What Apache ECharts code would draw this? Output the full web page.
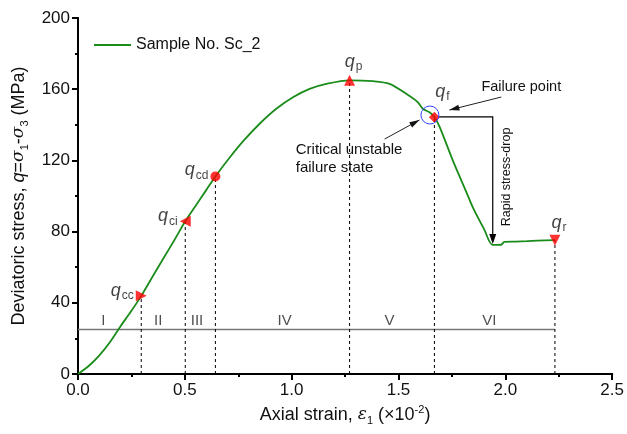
<!DOCTYPE html>
<html><head><meta charset="utf-8">
<script src="https://cdn.jsdelivr.net/npm/echarts@6/dist/echarts.min.js"></script>
<style>html,body{margin:0;padding:0;background:#fff}#c{width:627px;height:434px}</style>
</head><body><div id="c"></div><script>
// ---- data ----
const strain = [0,0.05,0.1,0.15,0.2,0.25,0.296,0.35,0.4,0.45,0.502,0.55,0.6,0.643,0.71,0.773,0.85,0.928,1.006,1.084,1.162,1.271,1.38,1.458,1.536,1.59,1.614,1.645,1.668,1.692,1.754,1.816,1.85,1.9,1.941,1.98,1.995,2.05,2.1,2.15,2.232];
const stress = [0,4.5,10.5,18,27,35.5,43.9,54.9,65,75,85.8,94.4,103.3,111,121.6,130.8,140.6,149,155.5,160.2,163,165,164.5,163,157.4,152.7,149,147,144.3,139,120,102.6,93,81.5,72.5,72.6,74.2,74.4,74.6,74.9,75.2];
const keyNames = ['cc','ci','cd','p','f','r'];
const keyStrain = [0.296,0.502,0.643,1.271,1.668,2.232];
const keyStress = [43.9,85.8,111,165,144.3,75.2];
const stageNames = ['I','II','III','IV','V','VI'];
const stageX = [0.118,0.375,0.557,0.967,1.458,1.925];
const stageLabelY = [30,30,30,30,30,30];
const stageLineY = 25;

const FONT = '"Liberation Sans", Arial, sans-serif';
const chart = echarts.init(document.getElementById('c'), null, {renderer:'canvas'});

const keySymbols = ['triangle','triangle','circle','triangle','diamond','triangle'];
const keyRot = [-90,90,0,0,0,180];
const keySize = [11,11,10,11,11,11];
const keyLabelPos = [
  {position:'left', distance:2, offset:[0,-5]},
  {position:'left', distance:2, offset:[0,-5]},
  {position:'left', distance:2, offset:[0,-6]},
  {position:'top', distance:3, offset:[4,1]},
  {position:'top', distance:4, offset:[8,-5]},
  {position:'top', distance:3, offset:[4,2]}
];
const qRich = {
  q:{fontFamily:FONT, fontStyle:'italic', fontSize:18, color:'#111', lineHeight:22, verticalAlign:'middle'},
  s:{fontFamily:FONT, fontSize:12, color:'#111', lineHeight:22, verticalAlign:'bottom', padding:[0,0,0,1]}
};

const dashedSeries = keyStrain.map((x,i)=>({
  type:'line', data:[[x,0],[x,keyStress[i]]], symbol:'none', silent:true, z:2,
  lineStyle:{color:'#000', width:1, type:[3,3]}
}));

const option = {
  animation:false,
  textStyle:{fontFamily:FONT},
  grid:{left:78, right:14, top:18, bottom:60},
  legend:{data:['Sample No. Sc_2'], left:89, top:32, icon:'rect', itemWidth:37, itemHeight:2, itemGap:5,
    textStyle:{fontFamily:FONT, fontSize:16, color:'#111', padding:[0,0,0,0]}},
  xAxis:[{
    type:'value', min:0, max:2.5, interval:0.5, position:'bottom',
    name:'{t|Axial strain, }{i|ε}{s|1}{t| (×10}{u|-2}{t|)}', nameLocation:'middle', nameGap:30,
    nameTextStyle:{rich:{
      t:{fontFamily:FONT, fontSize:18, color:'#111', lineHeight:22, verticalAlign:'middle'},
      i:{fontFamily:'"DejaVu Serif", serif', fontStyle:'italic', fontSize:17, color:'#111', lineHeight:22, verticalAlign:'middle'},
      s:{fontFamily:FONT, fontSize:11, color:'#111', lineHeight:22, verticalAlign:'bottom'},
      u:{fontFamily:FONT, fontSize:11, color:'#111', lineHeight:22, verticalAlign:'top'}
    }},
    axisLine:{lineStyle:{color:'#000', width:2}},
    axisTick:{length:6, lineStyle:{color:'#000', width:2}},
    minorTick:{show:true, splitNumber:2, length:3, lineStyle:{color:'#000', width:2}},
    splitLine:{show:false},
    axisLabel:{fontFamily:FONT, fontSize:17, color:'#111', margin:8, formatter:v=>v.toFixed(1)}
  },{
    type:'value', min:0, max:2.5, interval:0.5, position:'top',
    axisLine:{show:true, lineStyle:{color:'#000', width:2}},
    axisTick:{show:true, inside:true, length:6, lineStyle:{color:'#000', width:2}},
    minorTick:{show:true, splitNumber:2, length:3, lineStyle:{color:'#000', width:2}},
    axisLabel:{show:false}, splitLine:{show:false}
  }],
  yAxis:[{
    type:'value', min:0, max:200, interval:40, position:'left',
    name:'{t|Deviatoric stress, }{i|q}{t|=}{g|σ}{s|1}{t|-}{g|σ}{s|3}{t| (MPa)}', nameLocation:'middle', nameGap:48,
    nameTextStyle:{rich:{
      t:{fontFamily:FONT, fontSize:18, color:'#111', lineHeight:22, verticalAlign:'middle'},
      i:{fontFamily:FONT, fontStyle:'italic', fontSize:18, color:'#111', lineHeight:22, verticalAlign:'middle'},
      g:{fontFamily:'"DejaVu Serif", serif', fontStyle:'italic', fontSize:17, color:'#111', lineHeight:22, verticalAlign:'middle'},
      s:{fontFamily:FONT, fontSize:11, color:'#111', lineHeight:22, verticalAlign:'bottom'}
    }},
    axisLine:{show:true, lineStyle:{color:'#000', width:2}},
    axisTick:{show:true, length:6, lineStyle:{color:'#000', width:2}},
    minorTick:{show:true, splitNumber:2, length:3, lineStyle:{color:'#000', width:2}},
    splitLine:{show:false},
    axisLabel:{fontFamily:FONT, fontSize:17, color:'#111', margin:8}
  },{
    type:'value', min:0, max:200, interval:40, position:'right',
    axisLine:{show:true, lineStyle:{color:'#000', width:2}},
    axisTick:{show:true, inside:true, length:6, lineStyle:{color:'#000', width:2}},
    minorTick:{show:true, splitNumber:2, length:3, lineStyle:{color:'#000', width:2}},
    axisLabel:{show:false}, splitLine:{show:false}
  }],
  series:[
    {type:'line', data:[[0,stageLineY],[keyStrain[5],stageLineY]], symbol:'none', silent:true, z:1,
      lineStyle:{color:'#777', width:1.5}},
    ...dashedSeries,
    {name:'Sample No. Sc_2', type:'line', data:strain.map((x,i)=>[x,stress[i]]), symbol:'none',
      smooth:0.3, z:3, lineStyle:{color:'#1a8c1a', width:1.8}, itemStyle:{color:'#1a8c1a'}},
    {type:'scatter', z:5, silent:true,
      data:keyNames.map((n,i)=>({value:[keyStrain[i],keyStress[i]], symbol:keySymbols[i], symbolRotate:keyRot[i], symbolSize:keySize[i],
        label:Object.assign({show:true, formatter:'{q|q}{s|'+n+'}', rich:qRich}, keyLabelPos[i])})),
      itemStyle:{color:'#ff0000'}},
    {type:'scatter', z:5, silent:true, symbolSize:0,
      data:stageNames.map((n,i)=>({value:[stageX[i],stageLabelY[i]], name:n})),
      label:{show:true, position:'inside', formatter:p=>p.name, fontFamily:FONT, fontSize:15, color:'#222'}}
  ]
};
chart.setOption(option);

// ---- annotations (data-space anchors) ----
const failText = [1.888,161.4];
const failArrow = [[1.981,155.6],[1.738,148.3]];
const critText = [1.019,121];
const critArrow = [[1.435,132],[1.598,142.7]];
const circleC = [1.647,145.5];
const bracket = [[1.69,144.4],[1.941,144.4],[1.941,73]];
const dropText = [2.005,110.7];

const P = p => chart.convertToPixel({xAxisIndex:0,yAxisIndex:0}, p);
function head(tip, from, size, w){
  const dx=tip[0]-from[0], dy=tip[1]-from[1], L=Math.hypot(dx,dy), ux=dx/L, uy=dy/L;
  const bx=tip[0]-ux*size, by=tip[1]-uy*size;
  return [[tip[0],tip[1]],[bx-uy*w,by+ux*w],[bx+uy*w,by-ux*w]];
}
const g = [];
const fa0=P(failArrow[0]), fa1=P(failArrow[1]);
g.push({type:'line', shape:{x1:fa0[0],y1:fa0[1],x2:fa1[0],y2:fa1[1]}, style:{stroke:'#222', lineWidth:1}});
g.push({type:'polygon', shape:{points:head(fa1,fa0,10,3)}, style:{fill:'#111'}});
const ca0=P(critArrow[0]), ca1=P(critArrow[1]);
g.push({type:'line', shape:{x1:ca0[0],y1:ca0[1],x2:ca1[0],y2:ca1[1]}, style:{stroke:'#222', lineWidth:1}});
g.push({type:'polygon', shape:{points:head(ca1,ca0,10,3)}, style:{fill:'#111'}});
const cc=P(circleC);
g.push({type:'circle', shape:{cx:cc[0],cy:cc[1],r:9}, style:{fill:'none', stroke:'#3344ff', lineWidth:1}, z:10});
const bp = bracket.map(P);
g.push({type:'polyline', shape:{points:bp.slice(0,2).concat([[bp[2][0],bp[2][1]-8]])}, style:{stroke:'#000', lineWidth:1.2, fill:null}});
g.push({type:'polygon', shape:{points:head(bp[2],bp[1],10,3.5)}, style:{fill:'#000'}});
const ft=P(failText);
g.push({type:'text', x:ft[0], y:ft[1], style:{text:'Failure point', fontFamily:FONT, fontSize:14.5, fill:'#111', verticalAlign:'middle'}});
const ct=P(critText);
g.push({type:'text', x:ct[0], y:ct[1], style:{text:'Critical unstable\nfailure state', fontFamily:FONT, fontSize:15, lineHeight:18, fill:'#111', verticalAlign:'middle'}});
const dt=P(dropText);
g.push({type:'text', x:dt[0], y:dt[1], rotation:Math.PI/2, style:{text:'Rapid stress-drop', fontFamily:FONT, fontSize:12.5, fill:'#111', align:'center', verticalAlign:'middle'}});
chart.setOption({graphic:g});
</script></body></html>
